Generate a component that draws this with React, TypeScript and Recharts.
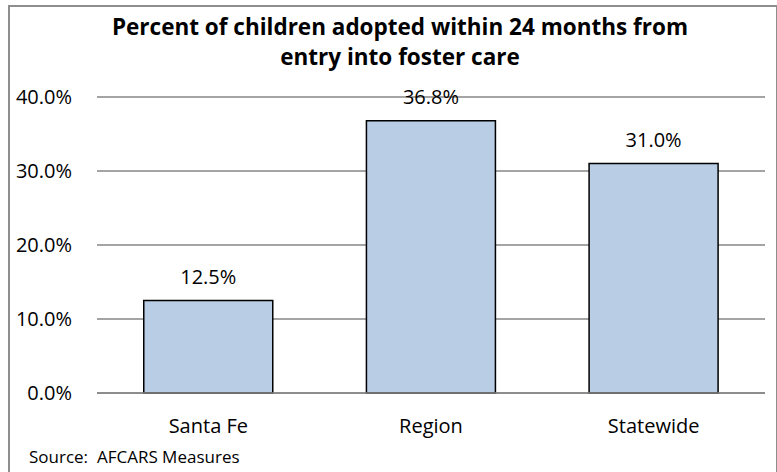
import React from 'react';
import { BarChart, Bar, XAxis, YAxis, CartesianGrid, LabelList } from 'recharts';

const categories = ['Santa Fe', 'Region', 'Statewide'];
const percentAdopted = [12.5, 36.8, 31.0];
const yTicks = [0, 10, 20, 30, 40];

const data = categories.map((name, i) => ({ name, value: percentAdopted[i] }));

const FONT = '"Open Sans", Lato, sans-serif';
const fmt = (v: number) => `${Number(v).toFixed(1)}%`;

export default function App() {
  return (
    <div style={{ position: 'absolute', left: 0, top: 0, width: 777, height: 472, background: '#fff', overflow: 'hidden', fontFamily: FONT }}>
      <div
        style={{
          position: 'absolute',
          left: 8,
          top: 5,
          width: 766,
          height: 480,
          border: '2px solid #8e8e8e',
        }}
      />
      <div
        style={{
          position: 'absolute',
          left: 0,
          top: 12,
          width: 800,
          textAlign: 'center',
          fontWeight: 'bold',
          fontSize: 22.5,
          lineHeight: '30px',
          color: '#000',
        }}
      >
        Percent of children adopted within 24 months from
        <br />
        entry into foster care
      </div>
      <BarChart
        width={777}
        height={472}
        data={data}
        margin={{ top: 97, right: 12, left: 17, bottom: 49 }}
        barCategoryGap="21%"
        style={{ position: 'absolute', left: 0, top: 0 }}
      >
        <CartesianGrid vertical={false} stroke="#868686" strokeWidth={1.3} />
        <XAxis
          dataKey="name"
          height={30}
          tickLine={false}
          tickSize={0}
          tickMargin={26}
          axisLine={{ stroke: '#868686', strokeWidth: 1.3 }}
          tick={{ fontFamily: FONT, fontSize: 20, fill: '#000' }}
        />
        <YAxis
          width={80}
          domain={[0, 40]}
          ticks={yTicks}
          tickFormatter={fmt}
          axisLine={false}
          tickLine={false}
          tickSize={0}
          tickMargin={25}
          tick={{ fontFamily: FONT, fontSize: 20, fill: '#000' }}
        />
        <Bar dataKey="value" fill="#b9cde5" stroke="#000" strokeWidth={1.5} isAnimationActive={false}>
          <LabelList
            dataKey="value"
            position="top"
            offset={17}
            formatter={(v: any) => fmt(v)}
            style={{ fontFamily: FONT, fontSize: 20, fill: '#000' }}
          />
        </Bar>
      </BarChart>
      <div style={{ position: 'absolute', left: 29, top: 447, fontSize: 17, lineHeight: '20px', color: '#000' }}>
        Source:&nbsp; AFCARS Measures
      </div>
    </div>
  );
}
